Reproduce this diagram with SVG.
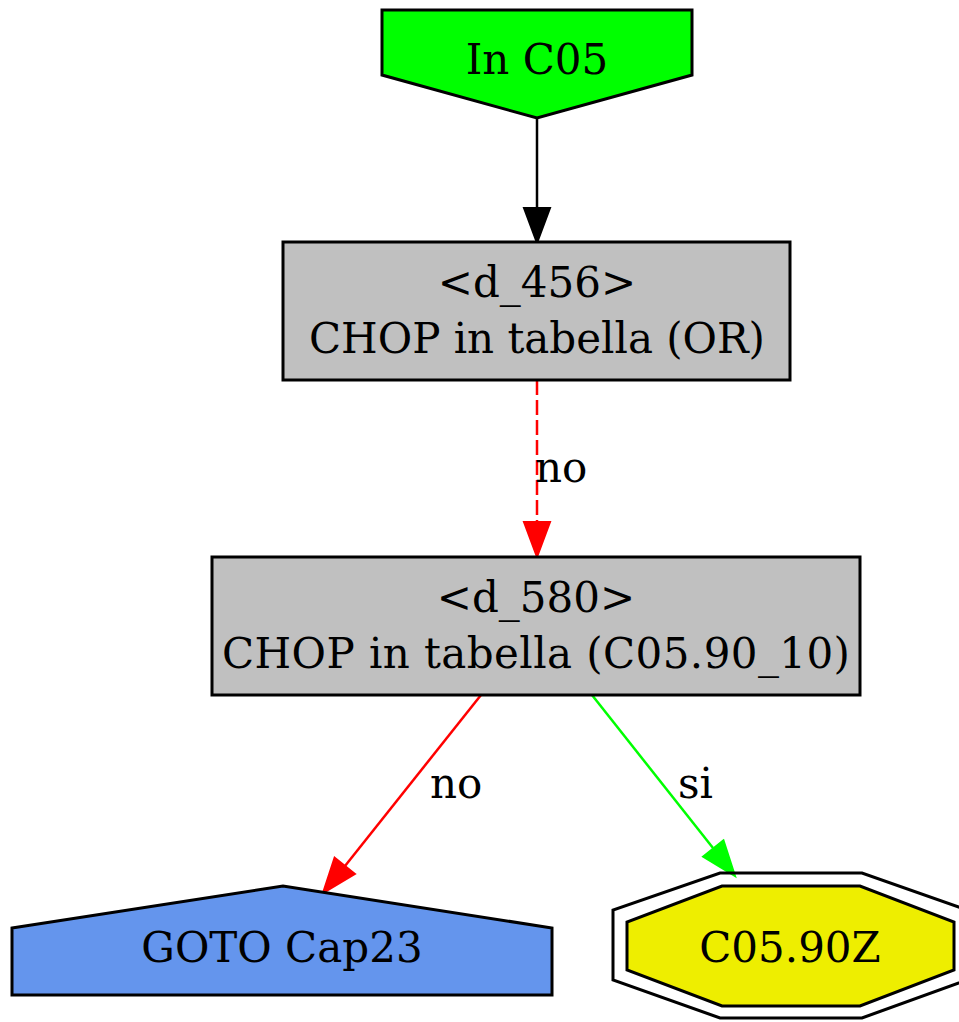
<svg xmlns="http://www.w3.org/2000/svg" width="959" height="1022" viewBox="0 0 959 1022">
<style>
text{font-family:"DejaVu Serif","Liberation Serif",serif;font-size:42px;fill:#000}
.n{stroke:#000;stroke-width:3}
.c{text-anchor:middle}
.e{fill:none;stroke-width:2.5}
</style>
<rect width="959" height="1022" fill="#fff"/>
<g id="edges">
<line class="e" stroke="#000" x1="537" y1="118" x2="537" y2="210"/>
<polygon points="524,208 550,208 537,243" fill="#000" stroke="#000" stroke-width="2"/>
<line class="e" stroke="#f00" stroke-dasharray="15,5" x1="537" y1="380" x2="537" y2="522"/>
<polygon points="524,522 550,522 537,557" fill="#f00" stroke="#f00" stroke-width="2"/>
<text x="535" y="482">no</text>
<line class="e" stroke="#f00" x1="481" y1="695" x2="345" y2="866"/>
<polygon points="355,874 334.6,857.6 323,893" fill="#f00" stroke="#f00" stroke-width="2"/>
<text x="430" y="798">no</text>
<line class="e" stroke="#0f0" x1="592" y1="695" x2="713" y2="848"/>
<polygon points="723.5,840.4 703.1,856.6 735,876" fill="#0f0" stroke="#0f0" stroke-width="2"/>
<text x="678" y="798">si</text>
</g>
<g id="in_c05">
<polygon class="n" fill="#00ff00" points="382,10 692,10 692,75 537,118 382,75"/>
<text class="c" x="537" y="74">In C05</text>
</g>
<g id="d_456">
<rect class="n" fill="#c0c0c0" x="283" y="242" width="507" height="138"/>
<text class="c" x="537" y="297">&lt;d_456&gt;</text>
<text class="c" x="537" y="353" textLength="456" lengthAdjust="spacing">CHOP in tabella (OR)</text>
</g>
<g id="d_580">
<rect class="n" fill="#c0c0c0" x="212" y="557" width="648" height="138"/>
<text class="c" x="536" y="612">&lt;d_580&gt;</text>
<text class="c" x="536" y="668" textLength="628" lengthAdjust="spacing">CHOP in tabella (C05.90_10)</text>
</g>
<g id="goto_cap23">
<polygon class="n" fill="#6495ed" points="12,928 283,886 552,928 552,995 12,995"/>
<text class="c" x="282" y="962">GOTO Cap23</text>
</g>
<g id="c05_90z">
<polygon fill="none" stroke="#000" stroke-width="3" points="720,873 862,873 967,910 967,980 862,1018 720,1018 613,980 613,910"/>
<polygon class="n" fill="#eeee00" points="722,886 860,886 954,922 954,970 860,1006 722,1006 627,970 627,922"/>
<text class="c" x="790" y="962">C05.90Z</text>
</g>
</svg>
